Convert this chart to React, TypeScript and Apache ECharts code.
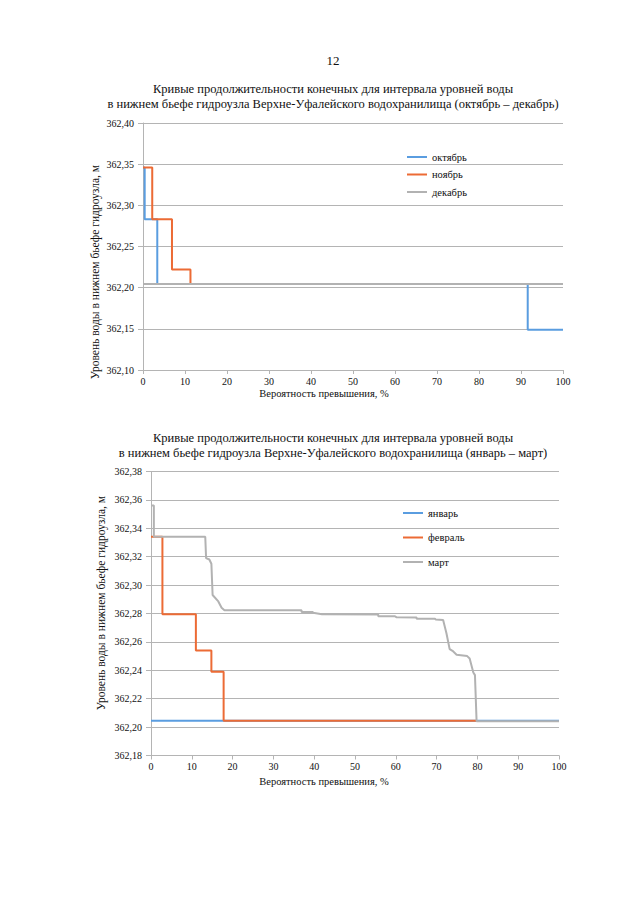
import React, { useEffect, useRef } from "react";
import * as echarts from "echarts";

// ---- Chart 1 (October – December) ----
const octoberData: number[][] = [
  [0, 362.346], [0.4, 362.346], [0.4, 362.283], [3.4, 362.283], [3.4, 362.2045],
  [91.6, 362.2045], [91.6, 362.149], [100, 362.149],
];
const novemberData: number[][] = [
  [0, 362.346], [2.2, 362.346], [2.2, 362.283], [6.9, 362.283], [6.9, 362.222],
  [11.3, 362.222], [11.3, 362.2045], [100, 362.2045],
];
const decemberData: number[][] = [[0, 362.2045], [100, 362.2045]];

// ---- Chart 2 (January – March) ----
const januaryData: number[][] = [[0, 362.2045], [100, 362.2045]];
const februaryData: number[][] = [
  [0, 362.334], [2.8, 362.334], [2.8, 362.2795], [11.0, 362.2795], [11.0, 362.254],
  [14.8, 362.254], [14.8, 362.239], [17.8, 362.239], [17.8, 362.2045], [79.8, 362.2045],
];
const marchData: number[][] = [
  [0, 362.356], [0.7, 362.356], [0.7, 362.334], [13.3, 362.334], [13.5, 362.319],
  [14.3, 362.318], [14.8, 362.315], [15.1, 362.293], [16.5, 362.2885], [17.3, 362.284],
  [18.0, 362.2823], [36.9, 362.2823], [36.9, 362.281], [39.7, 362.281], [39.7, 362.2805],
  [41.9, 362.2795], [55.7, 362.2793], [55.7, 362.2781], [59.8, 362.2781], [60.2, 362.2773],
  [65.1, 362.2771], [65.1, 362.2763], [69.6, 362.2763], [69.8, 362.2757], [71.6, 362.2755],
  [72.4, 362.2663], [73.2, 362.2549], [73.9, 362.2537], [74.9, 362.251], [77.5, 362.25],
  [78.1, 362.2483], [79.0, 362.2385], [79.4, 362.2366], [79.8, 362.2042], [100, 362.2042],
];

const names1 = ["октябрь", "ноябрь", "декабрь"];
const names2 = ["январь", "февраль", "март"];
const title1 = [
  "Кривые продолжительности конечных для интервала уровней воды",
  "в нижнем бьефе гидроузла Верхне-Уфалейского водохранилища (октябрь – декабрь)",
];
const title2 = [
  "Кривые продолжительности конечных для интервала уровней воды",
  "в нижнем бьефе гидроузла Верхне-Уфалейского водохранилища (январь – март)",
];
const yName = "Уровень воды в нижнем бьефе гидроузла, м";
const xName = "Вероятность превышения, %";
const pageNumber = "12";

const FONT = "Liberation Serif, serif";
const BLUE = "#5a9de0";
const ORANGE = "#ec6b35";
const GRAY = "#b2b2b2";
const GRID = "#b4b4b4";
const TXT = "#111";

export default function App() {
  const ref = useRef<HTMLDivElement>(null);
  useEffect(() => {
    if (!ref.current) return;
    const chart = echarts.init(ref.current, null, { renderer: "svg" });
    const fmt = (v: number) => v.toFixed(2).replace(".", ",");
    const xAxisBase = (gridIndex: number) => ({
      type: "value" as const,
      gridIndex,
      min: 0,
      max: 100,
      interval: 10,
      axisLine: { show: true, lineStyle: { color: GRID, width: 1 } },
      axisTick: { show: true, length: 4, lineStyle: { color: GRID } },
      splitLine: { show: false },
      axisLabel: { color: TXT, fontFamily: FONT, fontSize: 10, margin: 6 },
    });
    const yAxisBase = (gridIndex: number, min: number, max: number, interval: number) => ({
      type: "value" as const,
      gridIndex,
      min,
      max,
      interval,
      axisLine: { show: true, lineStyle: { color: GRID, width: 1 } },
      axisTick: { show: true, length: 5, lineStyle: { color: GRID } },
      splitLine: { show: true, lineStyle: { color: GRID, width: 1 } },
      axisLabel: { color: TXT, fontFamily: FONT, fontSize: 10, margin: 9, formatter: fmt },
    });
    const lineSeries = (name: string, data: number[][], color: string, idx: number) => ({
      type: "line" as const,
      name,
      data,
      xAxisIndex: idx,
      yAxisIndex: idx,
      showSymbol: false,
      symbol: "none",
      lineStyle: { color, width: 2 },
      itemStyle: { color },
      z: 3,
    });
    const txt = (text: string, x: number, y: number, size: number, rotation = 0) => ({
      type: "text" as const,
      x,
      y,
      rotation,
      style: {
        text,
        fill: TXT,
        fontFamily: FONT,
        fontSize: size,
        align: "center",
        verticalAlign: "middle",
      },
    });
    const legendBase = (data: string[], top: number, left: number, gap: number) => ({
      data,
      orient: "vertical" as const,
      left,
      top,
      itemGap: gap,
      itemWidth: 20,
      itemHeight: 2,
      icon: "rect",
      textStyle: { color: TXT, fontFamily: FONT, fontSize: 10.5, lineHeight: 12 },
    });

    chart.setOption({
      animation: false,
      backgroundColor: "#ffffff",
      textStyle: { fontFamily: FONT },
      grid: [
        { left: 143, top: 123, width: 420, height: 247, containLabel: false },
        { left: 151, top: 471.5, width: 408, height: 284, containLabel: false },
      ],
      xAxis: [xAxisBase(0), xAxisBase(1)],
      yAxis: [yAxisBase(0, 362.1, 362.4, 0.05), yAxisBase(1, 362.18, 362.38, 0.02)],
      legend: [
        legendBase(names1, 146, 402, 5.5),
        legendBase(names2, 502, 398, 12.5),
      ],
      series: [
        lineSeries(names1[0], octoberData, BLUE, 0),
        lineSeries(names1[1], novemberData, ORANGE, 0),
        lineSeries(names1[2], decemberData, GRAY, 0),
        lineSeries(names2[0], januaryData, BLUE, 1),
        lineSeries(names2[1], februaryData, ORANGE, 1),
        lineSeries(names2[2], marchData, GRAY, 1),
      ],
      graphic: [
        txt(pageNumber, 333, 60, 13),
        txt(title1[0], 333, 89, 12.5),
        txt(title1[1], 333, 104, 12.5),
        txt(title2[0], 333, 437.5, 12.5),
        txt(title2[1], 333, 453, 12.5),
        txt(yName, 95, 272, 11.5, Math.PI / 2),
        txt(yName, 101, 603, 11.5, Math.PI / 2),
        txt(xName, 324, 393.5, 10.5),
        txt(xName, 324, 781, 10.5),
      ],
    });
    return () => chart.dispose();
  }, []);
  return (
    <div
      ref={ref}
      style={{ position: "absolute", left: 0, top: 0, width: 640, height: 903, background: "#fff" }}
    />
  );
}
